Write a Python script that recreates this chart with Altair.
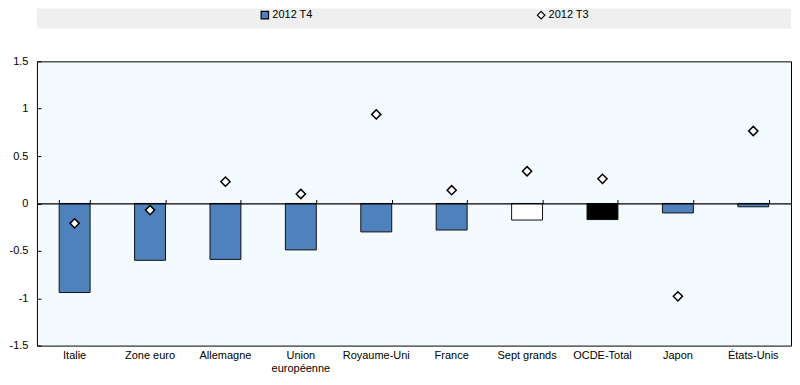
import altair as alt
import pandas as pd

# ---- data ----
categories = ["Italie", "Zone euro", "Allemagne", "Union européenne", "Royaume-Uni",
              "France", "Sept grands", "OCDE-Total", "Japon", "États-Unis"]
t4_values = [-0.94, -0.60, -0.59, -0.49, -0.30, -0.28, -0.175, -0.17, -0.10, -0.035]
t3_values = [-0.21, -0.07, 0.23, 0.10, 0.94, 0.14, 0.34, 0.26, -0.98, 0.765]
series_names = ["2012 T4", "2012 T3"]
y_ticks = [-1.5, -1, -0.5, 0, 0.5, 1, 1.5]

# ---- styles ----
BLUE = "#4F81BD"
special_fill = {"Sept grands": "#FFFFFF", "OCDE-Total": "#000000"}
fill_range = [special_fill.get(c, BLUE) for c in categories]
FONT = "Liberation Sans"
W, H = 756, 285

df_bar = pd.DataFrame({"cat": categories, "value": t4_values, "series": series_names[0]})
df_pt = pd.DataFrame({"cat": categories, "value": t3_values, "series": series_names[1]})

xscale = alt.Scale(domain=categories, paddingInner=0.59, paddingOuter=0.295)
yscale = alt.Scale(domain=[-1.5, 1.5], nice=False, zero=False)

legend_cfg = dict(title=None, orient="none", direction="horizontal",
                  legendX=223, legendY=1, columnPadding=222,
                  symbolSize=55, symbolStrokeColor="black", symbolStrokeWidth=1.2,
                  labelFont=FONT, labelFontSize=11, labelColor="black", labelOffset=2)

bars = alt.Chart(df_bar).mark_bar(stroke="#111111", strokeWidth=1).encode(
    x=alt.X("cat:N", scale=xscale, sort=categories, title=None,
            axis=alt.Axis(orient="bottom", labelAngle=0, domain=False, ticks=False,
                          labelPadding=4, labelFont=FONT, labelFontSize=11,
                          labelColor="black", labelLineHeight=13,
                          labelExpr="datum.label == 'Union européenne' ? ['Union', 'européenne'] : datum.label")),
    y=alt.Y("value:Q", scale=yscale, title=None,
            axis=alt.Axis(orient="left", values=y_ticks, grid=False, domain=False, ticks=False,
                          labelPadding=9, labelFont=FONT, labelFontSize=11, labelColor="black",
                          labelExpr="datum.value + ''")),
    y2=alt.Y2(datum=0),
    fill=alt.Fill("cat:N", scale=alt.Scale(domain=categories, range=fill_range), legend=None),
)

pts = alt.Chart(df_pt).mark_point(filled=True, size=85, stroke="black", strokeWidth=1.5, opacity=1).encode(
    x=alt.X("cat:N", scale=xscale, sort=categories, title=None,
            axis=alt.Axis(orient="top", offset=-H / 2, labels=False, domain=True, domainColor="black",
                          domainWidth=1.2, ticks=True, tickBand="extent", tickSize=4, tickColor="black",
                          zindex=1)),
    y=alt.Y("value:Q", scale=yscale, title=None,
            axis=alt.Axis(orient="right", offset=-W, labels=False, domain=False, ticks=True,
                          tickSize=4, tickColor="black", values=y_ticks, grid=False)),
    color=alt.Color("series:N", scale=alt.Scale(domain=series_names, range=[BLUE, "#FFFFFF"]),
                    legend=alt.Legend(**legend_cfg)),
    shape=alt.Shape("series:N", scale=alt.Scale(domain=series_names, range=["square", "diamond"]),
                    legend=alt.Legend(**legend_cfg)),
)

main = alt.layer(bars, pts).resolve_axis(x="independent", y="independent").properties(
    width=W, height=H,
    view=alt.ViewBackground(fill="#F4FBFF", stroke="black", strokeWidth=1),
)

band = alt.Chart(df_bar).mark_point(opacity=0).properties(
    width=W, height=20,
    view=alt.ViewBackground(fill="#EFEFEF", stroke=None),
)

chart = alt.vconcat(band, main, spacing=33, bounds="flush").properties(
    padding={"left": 0, "top": 0, "right": 0, "bottom": 0},
).configure(background="white")

chart.save("out.html", embed_options={"renderer": "svg", "actions": False})
